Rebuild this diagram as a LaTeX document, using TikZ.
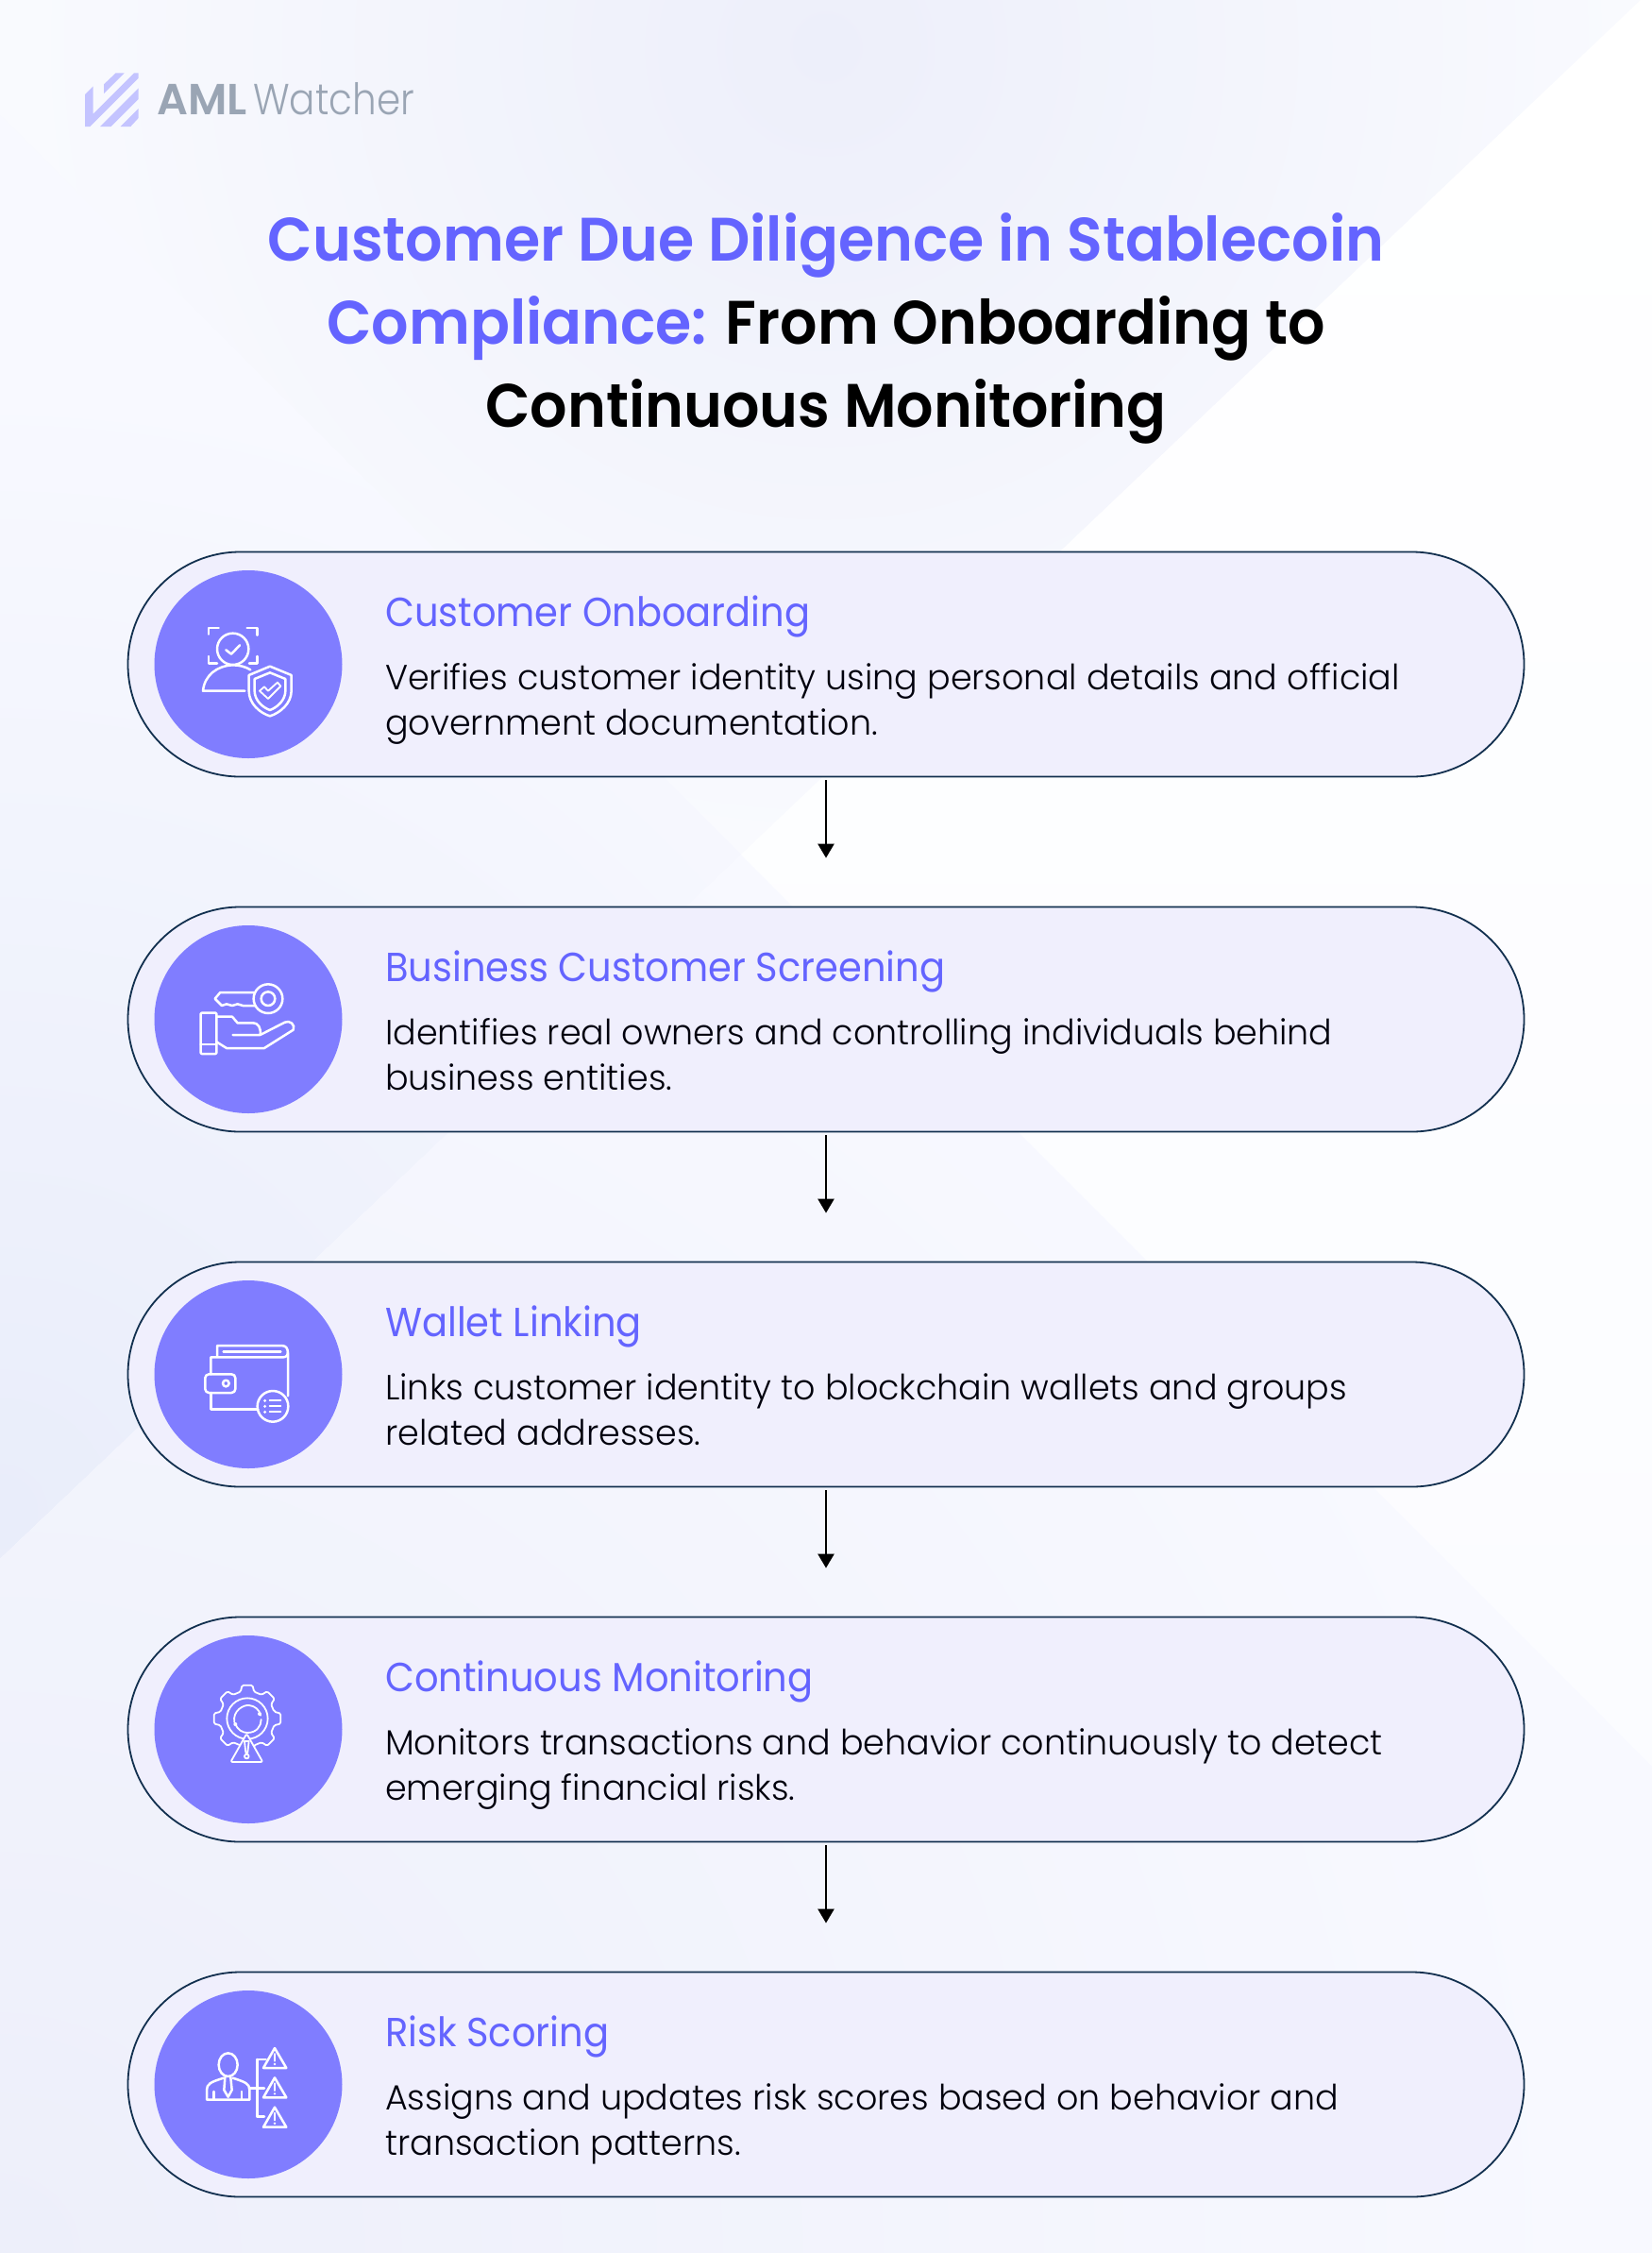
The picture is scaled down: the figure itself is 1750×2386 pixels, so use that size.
\documentclass[tikz,border=0pt]{standalone}
\usepackage{fontspec}
\usepackage{tikz}
\usetikzlibrary{positioning,shapes.misc,arrows.meta}
\setmainfont{Poppins}
\newfontfamily\headfont[FakeStretch=0.93]{Poppins}
\newfontfamily\bodyfont[FakeStretch=0.986]{Poppins Light}
\newfontfamily\watchfont[FakeStretch=0.88]{Poppins Light}
\newfontfamily\semifont[FakeStretch=0.952]{Poppins SemiBold}
\newfontfamily\amlfont{Poppins SemiBold}
\definecolor{brandblue}{HTML}{6464FF}
\definecolor{badgeblue}{HTML}{807DFF}
\definecolor{pillfill}{HTML}{F0EFFD}
\definecolor{pillline}{HTML}{12304F}
\definecolor{logogrey}{HTML}{9AA5B4}
\definecolor{logomark}{HTML}{C4C4FF}
\definecolor{bgwhite}{HTML}{FBFCFF}
\definecolor{bgpale}{HTML}{F8F9FF}
\definecolor{bgmid}{HTML}{EDEFFA}
\definecolor{bgdeep}{HTML}{E9EDFA}
\tikzset{
  pill/.style={rounded rectangle,draw=pillline,line width=1.8pt,fill=pillfill,minimum width=1479pt,minimum height=238pt,inner sep=0pt},
  badge/.style={circle,fill=badgeblue,minimum size=199pt,inner sep=0pt},
  headtext/.style={anchor=base west,inner sep=0pt,text=brandblue,font=\headfont\fontsize{43}{48}\selectfont},
  bodytext/.style={anchor=base west,inner sep=0pt,align=left,text=black!95!blue,font=\bodyfont\fontsize{37}{48}\selectfont},
  titletext/.style={anchor=base,inner sep=0pt,font=\semifont\fontsize{65}{88}\selectfont},
  flowarrow/.style={draw=black,line width=2.6pt,-{Triangle[width=17pt,length=15pt]},shorten <=3pt,shorten >=51pt},
  icon/.style={draw=white,line width=2.5pt,line join=round,line cap=round},
  thinicon/.style={draw=white,line width=1.8pt,line join=round,line cap=round}
}
\begin{document}
\begin{tikzpicture}[x=1pt,y=-1pt,node distance=376pt,on grid]
\useasboundingbox (0,0) rectangle (1750,2386);
% background
\begin{scope}
\clip (0,0) -- (1738,0) -- (785,905) -- (0,122) -- cycle;
\fill[bgwhite] (0,0) rectangle (1750,905);
\shade[inner color=bgmid,outer color=bgwhite] (-125,-950) rectangle (1875,1050);
\end{scope}
\begin{scope}
\clip (0,122) -- (785,905) -- (0,1651) -- cycle;
\fill[bgpale] (0,0) rectangle (785,1651);
\shade[inner color=bgdeep,outer color=bgpale] (-1200,400) rectangle (1200,2800);
\end{scope}
\begin{scope}
\clip (785,905) -- (1750,1870) -- (1750,2386) -- (0,2386) -- (0,1651) -- cycle;
\fill[bgpale] (0,905) rectangle (1750,2386);
\shade[inner color=bgmid,outer color=bgpale] (-1700,686) rectangle (1700,4086);
\end{scope}
\shade[top color=white,bottom color=bgwhite] (785,905) -- (1738,0) -- (1750,0) -- (1750,1870) -- cycle;
% logo
\begin{scope}[shift={(60,50)},scale=1/3]
\fill[logomark] (150,118) -- (188,82) -- (215,82) -- (150,147) -- cycle;
\fill[logomark] (90,150) -- (116,124) -- (116,212) -- (246,82) -- (260,82) -- (260,98) -- (106,252) -- (90,252) -- cycle;
\fill[logomark] (138,252) -- (260,130) -- (260,165) -- (173,252) -- cycle;
\fill[logomark] (203,252) -- (260,195) -- (260,225) -- (235,252) -- cycle;
\end{scope}
\node[anchor=base west,inner sep=0pt,text=logogrey,font=\amlfont\fontsize{46}{48}\selectfont] (logo_a) at (166,121) {AML};
\node[anchor=base west,inner sep=0pt,text=logogrey,font=\watchfont\fontsize{46}{48}\selectfont] (logo_b) at (268,121) {Watcher};
% title
\node[titletext] (title_1) at (875,276) {\textcolor{brandblue}{Customer Due Diligence in Stablecoin}};
\node[titletext] (title_2) at (875,364) {\textcolor{brandblue}{Compliance:} From Onboarding to};
\node[titletext] (title_3) at (875,452) {Continuous Monitoring};
% pills
\node[pill] (p_1) at (875,703.5) {};
\node[pill] (p_2) [below=of p_1] {};
\node[pill] (p_3) [below=of p_2] {};
\node[pill] (p_4) [below=of p_3] {};
\node[pill] (p_5) [below=of p_4] {};
\node[badge] (c_1) [left=612pt of p_1] {};
\node[badge] (c_2) [left=612pt of p_2] {};
\node[badge] (c_3) [left=612pt of p_3] {};
\node[badge] (c_4) [left=612pt of p_4] {};
\node[badge] (c_5) [left=612pt of p_5] {};
% headings and body
\node[headtext] (h_1) at ([xshift=-467pt,yshift=40.5pt]p_1.center) {Customer Onboarding};
\node[bodytext] (b_1) at ([xshift=-467pt,yshift=-74.5pt]p_1.center) {Verifies customer identity using personal details and official\\government documentation.};
\node[headtext] (h_2) at ([xshift=-467pt,yshift=40.5pt]p_2.center) {Business Customer Screening};
\node[bodytext] (b_2) at ([xshift=-467pt,yshift=-74.5pt]p_2.center) {Identifies real owners and controlling individuals behind\\business entities.};
\node[headtext] (h_3) at ([xshift=-467pt,yshift=40.5pt]p_3.center) {Wallet Linking};
\node[bodytext] (b_3) at ([xshift=-467pt,yshift=-74.5pt]p_3.center) {Links customer identity to blockchain wallets and groups\\related addresses.};
\node[headtext] (h_4) at ([xshift=-467pt,yshift=40.5pt]p_4.center) {Continuous Monitoring};
\node[bodytext] (b_4) at ([xshift=-467pt,yshift=-74.5pt]p_4.center) {Monitors transactions and behavior continuously to detect\\emerging financial risks.};
\node[headtext] (h_5) at ([xshift=-467pt,yshift=40.5pt]p_5.center) {Risk Scoring};
\node[bodytext] (b_5) at ([xshift=-467pt,yshift=-74.5pt]p_5.center) {Assigns and updates risk scores based on behavior and\\transaction patterns.};
% arrows
\draw[flowarrow] (p_1.south) -- (p_2.north);
\draw[flowarrow] (p_2.south) -- (p_3.north);
\draw[flowarrow] (p_3.south) -- (p_4.north);
\draw[flowarrow] (p_4.south) -- (p_5.north);
% icon: person and shield
\begin{scope}[shift={(140,590)},scale=1/3]
\draw[icon] (320,292) circle (50);
\draw[icon] (298,295) -- (315,308) -- (342,280);
\draw[icon] (243,245) -- (243,225) -- (275,225);
\draw[icon] (365,225) -- (398,225) -- (398,248);
\draw[icon] (243,315) -- (243,337) -- (270,337);
\draw[icon] (372,337) -- (398,337) -- (398,315);
\draw[icon] (358,425) -- (225,425) .. controls (230,375) and (270,345) .. (320,343) .. controls (340,343) and (360,348) .. (376,358);
\draw[icon] (438,347) -- (506,375) -- (506,425) .. controls (506,465) and (470,495) .. (438,505) .. controls (405,495) and (371,465) .. (371,425) -- (371,375) -- cycle;
\draw[icon] (438,367) -- (487,387) -- (487,425) .. controls (487,455) and (460,478) .. (438,486) .. controls (415,478) and (389,455) .. (389,425) -- (389,387) -- cycle;
\draw[thinicon] (405,425) -- (420,412) -- (432,425) -- (462,398) -- (472,410) -- (432,450) -- cycle;
\end{scope}
% icon: key over a hand
\begin{scope}[shift={(140,970)},scale=1/3]
\draw[icon] (432,263) circle (46);
\draw[icon] (432,263) circle (22);
\draw[icon] (390,243) -- (280,243) -- (263,263) -- (285,285) -- (300,280) -- (318,285) -- (335,280) -- (352,285) -- (390,285);
\draw[icon,rounded corners=1pt] (218,308) rectangle (268,438);
\draw[icon] (218,408) -- (268,408);
\draw[icon] (268,320) -- (318,320) -- (335,340) -- (385,340) .. controls (400,340) and (410,355) .. (407,378) -- (320,378);
\draw[icon] (407,378) -- (485,338) .. controls (500,330) and (520,345) .. (512,362) -- (420,420) -- (300,420) -- (268,400);
\end{scope}
% icon: wallet with list
\begin{scope}[shift={(140,1350)},scale=1/3]
\draw[icon] (270,258) -- (270,225) -- (475,225) .. controls (490,225) and (495,235) .. (495,250) -- (495,385);
\draw[icon] (250,316) -- (250,262) -- (480,262) .. controls (490,262) and (495,255) .. (495,245);
\draw[icon] (250,375) -- (250,428) -- (400,428);
\draw[icon] (290,244) -- (472,244);
\draw[icon,rounded corners=4pt] (232,316) rectangle (328,375);
\draw[icon] (298,345) circle (10);
\draw[icon] (447,418) circle (49);
\draw[thinicon] (437,400) -- (472,400);
\draw[thinicon] (437,418) -- (472,418);
\draw[thinicon] (437,436) -- (472,436);
\fill[white] (422,400) circle (5);
\fill[white] (422,418) circle (5);
\fill[white] (422,436) circle (5);
\end{scope}
% icon: gear with warning sign
\begin{scope}[shift={(140,1720)},scale=1/3]
\draw[thinicon,rounded corners=1.5pt] ({366+88*cos(-14)},{300+88*sin(-14)})
  \foreach \a in {0,45,...,315} { -- ({366+88*cos(\a-14)},{300+88*sin(\a-14)}) -- ({366+107*cos(\a-9)},{300+107*sin(\a-9)}) -- ({366+107*cos(\a+9)},{300+107*sin(\a+9)}) -- ({366+88*cos(\a+14)},{300+88*sin(\a+14)}) } -- cycle;
\draw[thinicon] (366,300) circle (65);
\draw[thinicon] (325,312) .. controls (318,275) and (355,255) .. (372,258) .. controls (390,260) and (405,272) .. (408,290);
\draw[thinicon] (410,303) .. controls (410,325) and (395,345) .. (366,345) .. controls (350,345) and (335,335) .. (328,318);
\fill[white] (405,285) circle (6);
\fill[white] (328,318) circle (6);
\draw[thinicon,fill=badgeblue,rounded corners=2pt] (364,348) -- (415,438) -- (313,438) -- cycle;
\draw[thinicon] (357,372) -- (371,372) -- (367,408) -- (361,408) -- cycle;
\draw[thinicon] (364,420) circle (7);
\end{scope}
% icon: man with three warnings
\begin{scope}[shift={(140,2100)},scale=1/3]
\draw[icon] (305,260) ellipse (30 and 37);
\draw[icon] (290,302) .. controls (250,315) and (237,320) .. (237,340) -- (237,371) -- (373,371) -- (373,340) .. controls (373,320) and (360,315) .. (320,302);
\draw[icon] (295,300) -- (292,340) -- (305,362) -- (317,340) -- (313,300);
\draw[icon] (260,345) -- (260,371);
\draw[icon] (348,345) -- (348,371);
\draw[icon] (397,243) -- (397,425);
\draw[icon] (397,243) -- (425,243);
\draw[icon] (373,335) -- (420,335);
\draw[icon] (397,425) -- (420,425);
\draw[icon] (453,207) -- (490,270) -- (417,270) -- cycle;
\draw[thinicon] (453,225) -- (453,248);
\fill[white] (453,258) circle (4);
\draw[icon] (453,301) -- (490,364) -- (417,364) -- cycle;
\draw[thinicon] (453,319) -- (453,342);
\fill[white] (453,352) circle (4);
\draw[icon] (453,395) -- (490,458) -- (417,458) -- cycle;
\draw[thinicon] (453,413) -- (453,436);
\fill[white] (453,446) circle (4);
\end{scope}
\end{tikzpicture}
\end{document}
